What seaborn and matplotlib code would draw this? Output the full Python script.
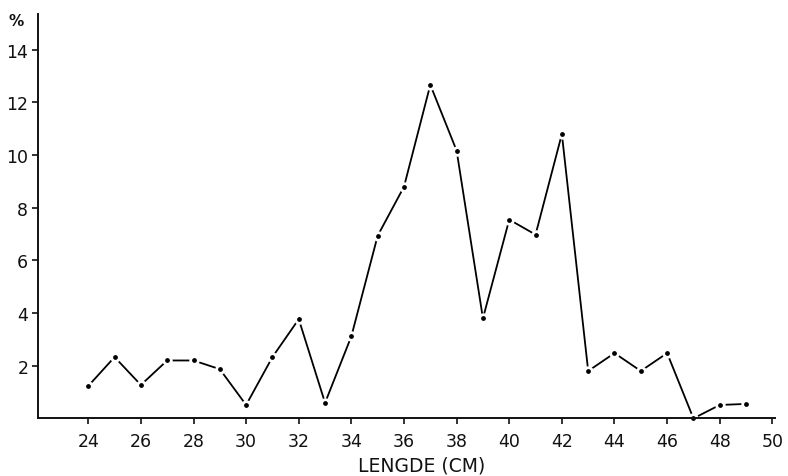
import matplotlib
matplotlib.use("Agg")
import matplotlib.pyplot as plt
import seaborn as sns
import pandas as pd

# Length distribution (percent of catch per cm class)
lengths = [24, 25, 26, 27, 28, 29, 30, 31, 32, 33, 34, 35, 36,
           37, 38, 39, 40, 41, 42, 43, 44, 45, 46, 47, 48, 49]
percent = [1.23, 2.33, 1.27, 2.2, 2.2, 1.87, 0.51, 2.33, 3.77, 0.59, 3.12, 6.94, 8.8,
           12.67, 10.17, 3.8, 7.55, 6.98, 10.8, 1.8, 2.48, 1.8, 2.48, 0.0, 0.51, 0.55]
x_ticks = [24, 26, 28, 30, 32, 34, 36, 38, 40, 42, 44, 46, 48, 50]
y_ticks = [2, 4, 6, 8, 10, 12, 14]

df = pd.DataFrame({"lengde": lengths, "prosent": percent})

sns.set_style("ticks")
plt.rcParams["font.family"] = ["DejaVu Sans"]

fig = plt.figure(figsize=(7.88, 4.77), dpi=100)
ax = fig.add_axes([38 / 788, 1 - 419.4 / 477, 737 / 788, (419.4 - 15) / 477])

sns.lineplot(data=df, x="lengde", y="prosent", ax=ax, color="black",
             linewidth=1.3, marker="o", markersize=5.5,
             markerfacecolor="black", markeredgecolor="white",
             markeredgewidth=2.0, clip_on=False)

ax.set_xlim(22.09, 50.1)
ax.set_ylim(0, 15.36)
ax.set_xticks(x_ticks)
ax.set_yticks(y_ticks)
ax.tick_params(axis="both", direction="out", length=4, width=1.2,
               labelsize=12.5, colors="#111111")
ax.tick_params(axis="x", pad=6)
ax.tick_params(axis="y", pad=3)

for side in ("top", "right"):
    ax.spines[side].set_visible(False)
for side in ("left", "bottom"):
    ax.spines[side].set_linewidth(1.4)
    ax.spines[side].set_color("#111111")

ax.set_ylabel("")
ax.set_xlabel("LENGDE (CM)", fontsize=13.5, color="#111111", va="center")
ax.xaxis.set_label_coords((422 - 38) / 737, -(466 - 419.4) / 404.4)

fig.text(16 / 788, 1 - 21 / 477, "%", ha="center", va="center",
         fontsize=11, fontweight="bold", color="#111111")

fig.savefig("out.png", dpi=100)
